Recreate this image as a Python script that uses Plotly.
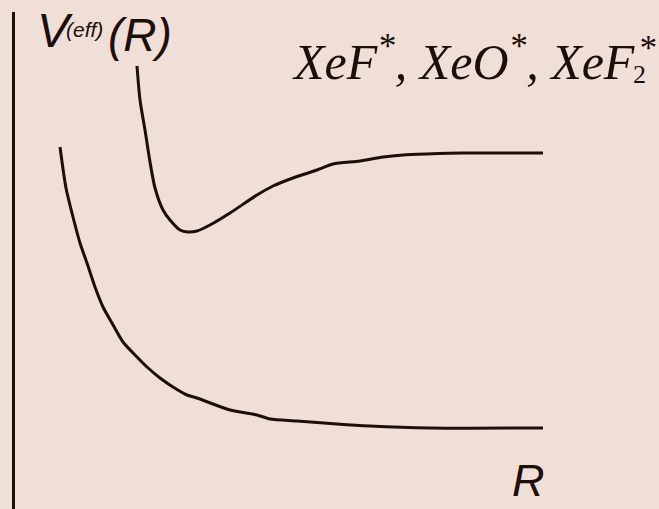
import plotly.graph_objects as go

# Effective potential curves V(eff)(R), schematic units (R right, V up)
upper_R = [122, 125, 130, 135, 140, 148, 155, 165, 173, 182, 195, 215, 242, 258,
           278, 302, 318, 345, 368, 388, 412, 448, 528]
upper_V = [443, 409, 379, 347, 321, 299, 289, 279, 277, 278, 284, 296, 314, 323,
           331, 339, 345, 348, 352, 354, 355, 356, 356]

lower_R = [45, 51, 58, 65, 72, 80, 88, 97, 108, 122, 132, 145, 158, 172, 182,
           215, 242, 255, 282, 322, 355, 415, 528]
lower_V = [362, 321, 292, 266, 246, 222, 202, 186, 167, 152, 142, 131, 122, 114, 111,
           99, 94, 90, 88, 85, 83, 81, 81]

BG = "#f0dfd7"
INK = "#1c0e09"

fig = go.Figure()
for rr, vv in ((upper_R, upper_V), (lower_R, lower_V)):
    fig.add_trace(go.Scatter(
        x=rr, y=vv, mode="lines",
        line=dict(color=INK, width=3, shape="spline", smoothing=0.7),
        hoverinfo="skip", showlegend=False,
    ))

sans = "Liberation Sans, Arial, sans-serif"
serif = "Liberation Serif, Times New Roman, serif"

annotations = [
    # axis title V^(eff)(R)
    dict(x=21, y=451, text="<i>V</i>", font=dict(family=sans, size=48, color=INK),
         xanchor="left", yanchor="bottom"),
    dict(x=50, y=467, text="<i>(eff)</i>", font=dict(family=sans, size=21, color=INK),
         xanchor="left", yanchor="bottom"),
    dict(x=92, y=447, text="<i>(R)</i>", font=dict(family=sans, size=46, color=INK),
         xanchor="left", yanchor="bottom"),
    # R axis label
    dict(x=496, y=2, text="<i>R</i>", font=dict(family=sans, size=45, color=INK),
         xanchor="left", yanchor="bottom"),
    # species label, with the stacked 2 and * of XeF2* set apart
    dict(x=276, y=418, text="<i>XeF<sup>*</sup>, XeO<sup>*</sup>, XeF</i>",
         font=dict(family=serif, size=50, color=INK),
         xanchor="left", yanchor="bottom"),
    dict(x=617, y=419, text="2", font=dict(family=serif, size=26, color=INK),
         xanchor="left", yanchor="bottom"),
    dict(x=622, y=440, text="<i>*</i>", font=dict(family=serif, size=35, color=INK),
         xanchor="left", yanchor="bottom"),
]
for a in annotations:
    a.update(xref="x", yref="y", showarrow=False, borderpad=0)

fig.update_layout(
    width=659, height=509,
    margin=dict(l=15, r=0, t=12, b=0),
    paper_bgcolor=BG, plot_bgcolor=BG,
    annotations=annotations,
    xaxis=dict(range=[0, 644], visible=True, showgrid=False, zeroline=False,
               showticklabels=False, ticks="", showline=False, fixedrange=True),
    yaxis=dict(range=[0, 497], showgrid=False, zeroline=False, showticklabels=False,
               ticks="", showline=True, linewidth=3, linecolor=INK, fixedrange=True),
)

fig.write_html("out.html", config=dict(displayModeBar=False))
